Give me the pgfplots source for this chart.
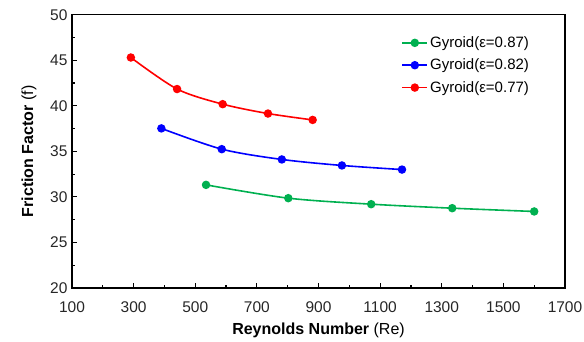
\documentclass[border=0pt]{standalone}
\usepackage{pgfplots}
\pgfplotsset{compat=1.18}
\usepackage{fontspec}
\setmainfont{Liberation Sans}
\definecolor{cgreen}{HTML}{00B050}
\definecolor{cblue}{HTML}{0000FF}
\definecolor{cred}{HTML}{FF0000}
\begin{document}
\begin{tikzpicture}[x=1pt,y=1pt]
\begin{axis}[
  scale only axis,
  width=493pt, height=273.3pt,
  xmin=100, xmax=1700, ymin=20, ymax=50,
  xtick={100,300,...,1700}, ytick={20,25,...,50},
  minor x tick num=1, minor y tick num=1,
  tick pos=left,
  tick align=inside,
  major tick length=5pt, minor tick length=3pt,
  every tick/.style={black, line width=1.2pt},
  axis line style={line width=1.5pt},
  /pgf/number format/assume math mode=true,
  /pgf/number format/1000 sep={},
  tick label style={font=\fontsize{15.5}{17}\selectfont, text=black!85},
  xticklabel style={yshift=-10pt},
  yticklabel style={xshift=-1pt},
  xlabel={\textbf{Reynolds Number} (Re)},
  ylabel={\textbf{Friction Factor} (f)},
  label style={font=\fontsize{16}{18}\selectfont},
  xlabel style={yshift=-4pt},
  ylabel style={yshift=7pt},
  legend style={at={(rel axis cs:0.668,0.935)}, anchor=north west, draw=none, fill=none,
    font=\fontsize{15}{17}\selectfont, row sep=6pt, inner xsep=0pt,
    nodes={inner xsep=2pt}},
  legend cell align=left,
  legend image code/.code={\draw[mark repeat=2,mark phase=2] plot coordinates {(0pt,0pt) (12.5pt,0pt) (25pt,0pt)};},
]
\addplot[cgreen, line width=1.6pt, smooth, mark=*, mark size=3.4pt, mark options={solid}]
  coordinates {(535,31.32) (802,29.86) (1071,29.2) (1334,28.76) (1600,28.4)};
\addlegendentry{Gyroid(ε=0.87)}
\addplot[cblue, line width=1.6pt, smooth, mark=*, mark size=3.4pt, mark options={solid}]
  coordinates {(390,37.52) (586,35.24) (781,34.11) (976,33.45) (1171,33.0)};
\addlegendentry{Gyroid(ε=0.82)}
\addplot[cred, line width=1.6pt, smooth, mark=*, mark size=3.4pt, mark options={solid}]
  coordinates {(291,45.3) (441,41.84) (589,40.18) (736,39.15) (881,38.45)};
\addlegendentry{Gyroid(ε=0.77)}
\end{axis}
\pgfresetboundingbox
\useasboundingbox (-72,-54) rectangle (512,288);
\end{tikzpicture}
\end{document}
